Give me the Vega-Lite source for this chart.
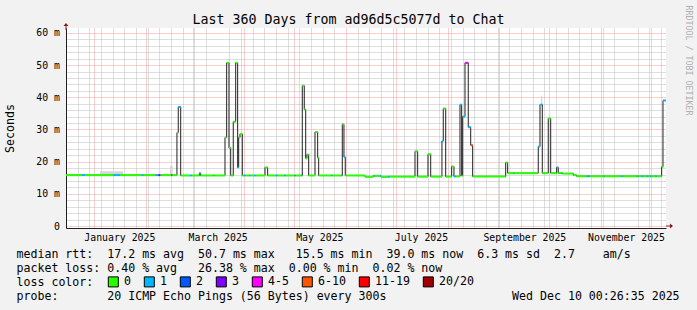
{
  "$schema": "https://vega.github.io/schema/vega-lite/v6.json",
  "width": 600,
  "height": 200,
  "autosize": {"type": "none"},
  "padding": {"left": 66, "top": 28, "right": 31, "bottom": 82},
  "background": "#f2f2f2",
  "config": {
    "font": "DejaVu Sans Mono",
    "view": {"stroke": null, "fill": "white"},
    "bar": {"continuousBandSize": 2}
  },
  "title": {
    "text": "Last 360 Days from ad96d5c5077d to Chat",
    "font": "DejaVu Sans Mono",
    "fontSize": 13.3,
    "fontWeight": "normal",
    "color": "black",
    "anchor": "middle",
    "frame": "group",
    "dx": -17.5,
    "baseline": "alphabetic",
    "offset": -32.5
  },
  "data": {
    "format": {"parse": {"t": "date"}},
    "values": [
      {"t": "2024-12-15T00:26:35", "ms": 15.8, "loss": "0"},
      {"t": "2024-12-24T14:00", "ms": 15.8, "loss": "1"},
      {"t": "2024-12-26T10:00", "ms": 15.8, "loss": "0"},
      {"t": "2025-01-12T05:00", "ms": 15.8, "loss": "1"},
      {"t": "2025-01-16T10:00", "ms": 15.8, "loss": "0"},
      {"t": "2025-01-29T14:00", "ms": 15.8, "loss": "1"},
      {"t": "2025-01-30T12:00", "ms": 15.8, "loss": "0"},
      {"t": "2025-02-06T10:00", "ms": 15.8, "loss": "1"},
      {"t": "2025-02-08T12:00", "ms": 15.8, "loss": "3"},
      {"t": "2025-02-09T17:00", "ms": 15.8, "loss": "0"},
      {"t": "2025-02-16T00:00", "ms": 15.8, "loss": "4-5"},
      {"t": "2025-02-16T22:00", "ms": 15.8, "loss": "0"},
      {"t": "2025-02-19T14:00", "ms": 29.0, "loss": "0"},
      {"t": "2025-02-20T09:00", "ms": 37.0, "loss": "1"},
      {"t": "2025-02-21T20:00", "ms": 15.7, "loss": "0"},
      {"t": "2025-02-27T10:00", "ms": 15.7, "loss": "1"},
      {"t": "2025-02-28T10:00", "ms": 15.7, "loss": "0"},
      {"t": "2025-03-04T23:30", "ms": 16.4, "loss": "1"},
      {"t": "2025-03-05T20:00", "ms": 15.7, "loss": "0"},
      {"t": "2025-03-13T05:00", "ms": 15.7, "loss": "1"},
      {"t": "2025-03-13T23:30", "ms": 15.7, "loss": "0"},
      {"t": "2025-03-20T10:00", "ms": 27.5, "loss": "0"},
      {"t": "2025-03-21T10:00", "ms": 50.7, "loss": "0"},
      {"t": "2025-03-22T19:00", "ms": 24.3, "loss": "0"},
      {"t": "2025-03-23T20:00", "ms": 15.7, "loss": "0"},
      {"t": "2025-03-25T09:00", "ms": 32.4, "loss": "0"},
      {"t": "2025-03-26T20:00", "ms": 50.7, "loss": "0"},
      {"t": "2025-03-28T00:30", "ms": 18.2, "loss": "1"},
      {"t": "2025-03-28T15:00", "ms": 27.5, "loss": "0"},
      {"t": "2025-03-29T10:00", "ms": 28.6, "loss": "0"},
      {"t": "2025-03-30T19:00", "ms": 15.7, "loss": "0"},
      {"t": "2025-03-31T19:00", "ms": 15.7, "loss": "1"},
      {"t": "2025-04-01T17:00", "ms": 15.7, "loss": "0"},
      {"t": "2025-04-03T19:00", "ms": 15.7, "loss": "1"},
      {"t": "2025-04-04T17:00", "ms": 15.7, "loss": "0"},
      {"t": "2025-04-06T19:00", "ms": 15.7, "loss": "1"},
      {"t": "2025-04-07T17:00", "ms": 15.7, "loss": "0"},
      {"t": "2025-04-13T10:00", "ms": 18.2, "loss": "0"},
      {"t": "2025-04-15T00:30", "ms": 15.7, "loss": "0"},
      {"t": "2025-04-20T00:00", "ms": 15.7, "loss": "1"},
      {"t": "2025-04-20T22:00", "ms": 15.7, "loss": "0"},
      {"t": "2025-04-25T02:00", "ms": 15.7, "loss": "1"},
      {"t": "2025-04-26T00:00", "ms": 15.7, "loss": "0"},
      {"t": "2025-05-01T02:00", "ms": 15.7, "loss": "1"},
      {"t": "2025-05-02T00:00", "ms": 15.7, "loss": "0"},
      {"t": "2025-05-05T00:00", "ms": 15.7, "loss": "1"},
      {"t": "2025-05-05T19:00", "ms": 43.6, "loss": "0"},
      {"t": "2025-05-06T23:30", "ms": 36.2, "loss": "0"},
      {"t": "2025-05-07T20:00", "ms": 21.0, "loss": "0"},
      {"t": "2025-05-08T14:00", "ms": 22.2, "loss": "0"},
      {"t": "2025-05-09T15:00", "ms": 15.7, "loss": "0"},
      {"t": "2025-05-13T10:00", "ms": 29.2, "loss": "0"},
      {"t": "2025-05-15T00:30", "ms": 21.2, "loss": "0"},
      {"t": "2025-05-15T15:00", "ms": 15.7, "loss": "0"},
      {"t": "2025-05-23T00:00", "ms": 15.7, "loss": "1"},
      {"t": "2025-05-23T22:00", "ms": 15.7, "loss": "0"},
      {"t": "2025-05-29T00:00", "ms": 15.7, "loss": "1"},
      {"t": "2025-05-29T19:00", "ms": 31.6, "loss": "0"},
      {"t": "2025-05-30T19:00", "ms": 21.4, "loss": "1"},
      {"t": "2025-05-31T14:00", "ms": 15.7, "loss": "0"},
      {"t": "2025-06-12T10:00", "ms": 15.3, "loss": "0"},
      {"t": "2025-06-17T05:00", "ms": 15.5, "loss": "1"},
      {"t": "2025-06-18T02:00", "ms": 15.6, "loss": "0"},
      {"t": "2025-06-21T10:00", "ms": 15.6, "loss": "1"},
      {"t": "2025-06-22T00:00", "ms": 15.3, "loss": "0"},
      {"t": "2025-06-26T05:00", "ms": 15.3, "loss": "1"},
      {"t": "2025-06-27T02:00", "ms": 15.35, "loss": "0"},
      {"t": "2025-07-12T10:00", "ms": 23.2, "loss": "0"},
      {"t": "2025-07-14T00:30", "ms": 15.35, "loss": "0"},
      {"t": "2025-07-20T05:00", "ms": 22.3, "loss": "0"},
      {"t": "2025-07-21T20:00", "ms": 15.35, "loss": "0"},
      {"t": "2025-07-28T14:00", "ms": 26.4, "loss": "1"},
      {"t": "2025-07-29T09:00", "ms": 36.5, "loss": "0"},
      {"t": "2025-07-30T20:00", "ms": 15.35, "loss": "0"},
      {"t": "2025-08-03T10:00", "ms": 18.5, "loss": "0"},
      {"t": "2025-08-04T19:00", "ms": 15.4, "loss": "1"},
      {"t": "2025-08-06T00:00", "ms": 15.4, "loss": "0"},
      {"t": "2025-08-08T10:00", "ms": 37.7, "loss": "1"},
      {"t": "2025-08-09T10:00", "ms": 15.6, "loss": "0"},
      {"t": "2025-08-10T00:30", "ms": 34.0, "loss": "1"},
      {"t": "2025-08-11T10:00", "ms": 50.7, "loss": "4-5"},
      {"t": "2025-08-13T09:00", "ms": 30.7, "loss": "1"},
      {"t": "2025-08-14T20:00", "ms": 25.1, "loss": "6-10"},
      {"t": "2025-08-16T00:30", "ms": 15.4, "loss": "0"},
      {"t": "2025-09-04T20:00", "ms": 19.7, "loss": "0"},
      {"t": "2025-09-06T00:30", "ms": 16.4, "loss": "0"},
      {"t": "2025-09-09T05:00", "ms": 16.4, "loss": "1"},
      {"t": "2025-09-10T02:00", "ms": 16.4, "loss": "0"},
      {"t": "2025-09-24T09:00", "ms": 24.7, "loss": "1"},
      {"t": "2025-09-25T10:00", "ms": 37.7, "loss": "1"},
      {"t": "2025-09-26T19:00", "ms": 16.4, "loss": "0"},
      {"t": "2025-09-30T09:00", "ms": 33.4, "loss": "0"},
      {"t": "2025-10-01T20:00", "ms": 16.4, "loss": "0"},
      {"t": "2025-10-05T10:00", "ms": 18.2, "loss": "1"},
      {"t": "2025-10-06T09:00", "ms": 16.4, "loss": "0"},
      {"t": "2025-10-08T00:00", "ms": 16.4, "loss": "1"},
      {"t": "2025-10-08T22:00", "ms": 16.3, "loss": "0"},
      {"t": "2025-10-15T09:00", "ms": 15.8, "loss": "0"},
      {"t": "2025-10-17T10:00", "ms": 15.45, "loss": "0"},
      {"t": "2025-10-23T10:00", "ms": 15.45, "loss": "1"},
      {"t": "2025-10-25T10:00", "ms": 15.45, "loss": "0"},
      {"t": "2025-11-02T05:00", "ms": 15.45, "loss": "1"},
      {"t": "2025-11-03T02:00", "ms": 15.45, "loss": "0"},
      {"t": "2025-11-13T10:00", "ms": 15.45, "loss": "1"},
      {"t": "2025-11-14T09:00", "ms": 15.45, "loss": "0"},
      {"t": "2025-11-22T10:00", "ms": 15.45, "loss": "1"},
      {"t": "2025-11-23T09:00", "ms": 15.45, "loss": "0"},
      {"t": "2025-11-25T10:00", "ms": 15.45, "loss": "1"},
      {"t": "2025-11-26T09:00", "ms": 15.45, "loss": "0"},
      {"t": "2025-11-28T10:00", "ms": 15.45, "loss": "1"},
      {"t": "2025-11-29T09:00", "ms": 15.45, "loss": "0"},
      {"t": "2025-11-30T10:00", "ms": 15.45, "loss": "1"},
      {"t": "2025-12-01T10:00", "ms": 15.45, "loss": "0"},
      {"t": "2025-12-03T10:00", "ms": 15.45, "loss": "1"},
      {"t": "2025-12-04T10:00", "ms": 15.45, "loss": "0"},
      {"t": "2025-12-07T10:00", "ms": 18.4, "loss": "0"},
      {"t": "2025-12-08T05:00", "ms": 39.0, "loss": "1"},
      {"t": "2025-12-10T00:26:35", "ms": 39.0, "loss": "1"}
    ]
  },
  "encoding": {
    "x": {
      "field": "t",
      "type": "temporal",
      "scale": {
        "domain": [
          {"year": 2024, "month": 12, "date": 15, "hours": 0, "minutes": 26, "seconds": 35},
          {"year": 2025, "month": 12, "date": 10, "hours": 0, "minutes": 26, "seconds": 35}
        ],
        "nice": false
      },
      "axis": {
        "orient": "bottom",
        "values": [
          {"year": 2024, "month": 12, "date": 22}, {"year": 2024, "month": 12, "date": 29},
          {"year": 2025, "month": 1, "date": 5}, {"year": 2025, "month": 1, "date": 12}, {"year": 2025, "month": 1, "date": 19}, {"year": 2025, "month": 1, "date": 26},
          {"year": 2025, "month": 2, "date": 2}, {"year": 2025, "month": 2, "date": 9}, {"year": 2025, "month": 2, "date": 16}, {"year": 2025, "month": 2, "date": 23},
          {"year": 2025, "month": 3, "date": 2}, {"year": 2025, "month": 3, "date": 9}, {"year": 2025, "month": 3, "date": 16}, {"year": 2025, "month": 3, "date": 23}, {"year": 2025, "month": 3, "date": 30},
          {"year": 2025, "month": 4, "date": 6}, {"year": 2025, "month": 4, "date": 13}, {"year": 2025, "month": 4, "date": 20}, {"year": 2025, "month": 4, "date": 27},
          {"year": 2025, "month": 5, "date": 4}, {"year": 2025, "month": 5, "date": 11}, {"year": 2025, "month": 5, "date": 18}, {"year": 2025, "month": 5, "date": 25},
          {"year": 2025, "month": 6, "date": 8}, {"year": 2025, "month": 6, "date": 15}, {"year": 2025, "month": 6, "date": 22}, {"year": 2025, "month": 6, "date": 29},
          {"year": 2025, "month": 7, "date": 6}, {"year": 2025, "month": 7, "date": 13}, {"year": 2025, "month": 7, "date": 20}, {"year": 2025, "month": 7, "date": 27},
          {"year": 2025, "month": 8, "date": 3}, {"year": 2025, "month": 8, "date": 10}, {"year": 2025, "month": 8, "date": 17}, {"year": 2025, "month": 8, "date": 24}, {"year": 2025, "month": 8, "date": 31},
          {"year": 2025, "month": 9, "date": 7}, {"year": 2025, "month": 9, "date": 14}, {"year": 2025, "month": 9, "date": 21}, {"year": 2025, "month": 9, "date": 28},
          {"year": 2025, "month": 10, "date": 5}, {"year": 2025, "month": 10, "date": 12}, {"year": 2025, "month": 10, "date": 19}, {"year": 2025, "month": 10, "date": 26},
          {"year": 2025, "month": 11, "date": 2}, {"year": 2025, "month": 11, "date": 9}, {"year": 2025, "month": 11, "date": 16}, {"year": 2025, "month": 11, "date": 23}, {"year": 2025, "month": 11, "date": 30},
          {"year": 2025, "month": 12, "date": 7},
          {"year": 2025, "month": 1, "date": 1}, {"year": 2025, "month": 2, "date": 1}, {"year": 2025, "month": 3, "date": 1}, {"year": 2025, "month": 4, "date": 1},
          {"year": 2025, "month": 5, "date": 1}, {"year": 2025, "month": 6, "date": 1}, {"year": 2025, "month": 7, "date": 1}, {"year": 2025, "month": 8, "date": 1},
          {"year": 2025, "month": 9, "date": 1}, {"year": 2025, "month": 10, "date": 1}, {"year": 2025, "month": 11, "date": 1}, {"year": 2025, "month": 12, "date": 1},
          {"year": 2025, "month": 1, "date": 16, "milliseconds": 1}, {"year": 2025, "month": 3, "date": 16, "milliseconds": 1},
          {"year": 2025, "month": 5, "date": 16, "milliseconds": 1}, {"year": 2025, "month": 7, "date": 16, "milliseconds": 1},
          {"year": 2025, "month": 9, "date": 16, "milliseconds": 1}, {"year": 2025, "month": 11, "date": 16, "milliseconds": 1}
        ],
        "labelExpr": "milliseconds(datum.value) === 1 ? timeFormat(datum.value, '%B %Y') : ''",
        "labelOverlap": false,
        "labelFlush": false,
        "labelFont": "DejaVu Sans Mono",
        "labelFontSize": 9.83,
        "labelColor": "black",
        "labelPadding": 4,
        "ticks": false,
        "domainColor": "#1f1f1f",
        "grid": true,
        "gridColor": {"condition": {"test": "date(datum.value) === 1 && hours(datum.value) === 0 && milliseconds(datum.value) === 0", "value": "#ee9f9f"}, "value": "#bdbdbd"},
        "gridOpacity": {"condition": {"test": "milliseconds(datum.value) === 1", "value": 0}, "value": 1},
        "gridDash": [1, 1],
        "title": [
          "median\u00a0rtt:\u00a0\u00a017.2\u00a0ms\u00a0avg\u00a0\u00a050.7\u00a0ms\u00a0max\u00a0\u00a0\u00a015.5\u00a0ms\u00a0min\u00a0\u00a039.0\u00a0ms\u00a0now\u00a0\u00a06.3\u00a0ms\u00a0sd\u00a0\u00a02.7\u00a0\u00a0\u00a0\u00a0am/s",
          "packet\u00a0loss:\u00a00.40\u00a0%\u00a0avg\u00a0\u00a0\u00a026.38\u00a0%\u00a0max\u00a0\u00a00.00\u00a0%\u00a0min\u00a0\u00a00.02\u00a0%\u00a0now",
          "loss\u00a0color:",
          "probe:\u00a0\u00a0\u00a0\u00a0\u00a0\u00a0\u00a020\u00a0ICMP\u00a0Echo\u00a0Pings\u00a0(56\u00a0Bytes)\u00a0every\u00a0300s\u00a0\u00a0\u00a0\u00a0\u00a0\u00a0\u00a0\u00a0\u00a0\u00a0\u00a0\u00a0\u00a0\u00a0\u00a0\u00a0\u00a0\u00a0Wed\u00a0Dec\u00a010\u00a000:26:35\u00a02025"
        ],
        "titleX": -50,
        "titleY": 29.5,
        "titleAlign": "left",
        "titleBaseline": "alphabetic",
        "titleFont": "DejaVu Sans Mono",
        "titleFontSize": 11.6,
        "titleFontWeight": "normal",
        "titleColor": "black",
        "titleLineHeight": 14
      }
    }
  },
  "resolve": {"axis": {"y": "independent"}},
  "layer": [
    {
      "data": {
        "format": {"parse": {"t": "date", "t1": "date"}},
        "values": [
          {"t": "2025-01-04T10:00", "t1": "2025-01-18T05:00", "ms": 15.9, "hi": 17.0},
          {"t": "2025-02-15T10:00", "t1": "2025-02-17T00:30", "ms": 15.9, "hi": 18.6},
          {"t": "2025-09-26T00:00", "t1": "2025-09-26T19:00", "ms": 37.7, "hi": 40.5}
        ]
      },
      "mark": {"type": "rect", "color": "#d6d6d6"},
      "encoding": {
        "x2": {"field": "t1"},
        "y": {"field": "ms", "type": "quantitative", "axis": null},
        "y2": {"field": "hi"}
      }
    },
    {
      "mark": {"type": "line", "interpolate": "step-after", "color": "#202020", "strokeWidth": 1},
      "encoding": {
        "y": {
          "field": "ms",
          "type": "quantitative",
          "scale": {"domain": [0, 60.9], "nice": false, "zero": true},
          "axis": {
            "orient": "left",
            "values": [0, 2, 4, 6, 8, 10, 12, 14, 16, 18, 20, 22, 24, 26, 28, 30, 32, 34, 36, 38, 40, 42, 44, 46, 48, 50, 52, 54, 56, 58, 60],
            "labelExpr": "datum.value % 10 === 0 ? (datum.value === 0 ? '0' : datum.value + ' m') : ''",
            "labelOverlap": false,
            "labelFont": "DejaVu Sans Mono",
            "labelFontSize": 9.83,
            "labelColor": "black",
            "labelPadding": 6.5,
            "ticks": false,
            "domainColor": "#1f1f1f",
            "grid": true,
            "gridColor": {"condition": {"test": "datum.value % 10 === 0", "value": "#ee9f9f"}, "value": "#bdbdbd"},
            "gridDash": [1, 1],
            "title": "Seconds",
            "titleFont": "DejaVu Sans Mono",
            "titleFontSize": 11.6,
            "titleFontWeight": "normal",
            "titleColor": "black",
            "titleAngle": -90,
            "titleX": -56,
            "titleY": 100,
            "titleAlign": "center",
            "titleBaseline": "middle"
          }
        }
      }
    },
    {
      "mark": {"type": "bar", "orient": "horizontal", "size": 2},
      "transform": [
        {"window": [{"op": "lead", "field": "t", "as": "t1"}], "sort": [{"field": "t", "order": "ascending"}]},
        {"filter": "datum.t1 != null"}
      ],
      "encoding": {
        "x2": {"field": "t1"},
        "y": {
          "field": "ms",
          "type": "quantitative",
          "axis": {
            "orient": "right",
            "domain": false,
            "ticks": false,
            "labels": false,
            "grid": false,
            "title": "RRDTOOL / TOBI OETIKER",
            "titleFont": "DejaVu Sans Mono",
            "titleFontSize": 8.3,
            "titleFontWeight": "normal",
            "titleColor": "#b0b0b0",
            "titleAngle": 90,
            "titleX": 21,
            "titleY": -23,
            "titleAlign": "left",
            "titleBaseline": "middle"
          }
        },
        "color": {
          "field": "loss",
          "type": "nominal",
          "scale": {
            "domain": ["0", "1", "2", "3", "4-5", "6-10", "11-19", "20/20"],
            "range": ["#26ff00", "#00b8ff", "#0059ff", "#7e00ff", "#ff00ff", "#ff5500", "#ff0000", "#a00000"]
          },
          "legend": {
            "orient": "none",
            "legendX": 41.5,
            "legendY": 248,
            "direction": "horizontal",
            "title": null,
            "labelFont": "DejaVu Sans Mono",
            "labelFontSize": 11.6,
            "labelColor": "black",
            "labelOffset": 5,
            "labelLimit": 200,
            "symbolType": "square",
            "symbolSize": 100,
            "symbolStrokeColor": "black",
            "symbolStrokeWidth": 1,
            "symbolOpacity": 1,
            "columnPadding": 10,
            "padding": 0
          }
        }
      }
    },
    {
      "data": {"format": {"parse": {"t": "date"}}, "values": [{"t": "2025-12-10T00:26:35", "ms": 0}]},
      "mark": {"type": "point", "shape": "M-1,-0.143L0.143,-0.143L0.143,-0.714L1,0L0.143,0.714L0.143,0.143L-1,0.143Z", "filled": true, "color": "#801f1f", "opacity": 1, "size": 49, "xOffset": 3.5},
      "encoding": {
        "y": {"field": "ms", "type": "quantitative", "axis": null}
      }
    },
    {
      "data": {"format": {"parse": {"t": "date"}}, "values": [{"t": "2024-12-15T00:26:35", "ms": 60.9}]},
      "mark": {"type": "point", "shape": "M-0.143,1L-0.143,-0.143L-0.714,-0.143L0,-1L0.714,-0.143L0.143,-0.143L0.143,1Z", "filled": true, "color": "#801f1f", "opacity": 1, "size": 49, "yOffset": -3.5},
      "encoding": {
        "y": {"field": "ms", "type": "quantitative", "axis": null}
      }
    }
  ]
}
